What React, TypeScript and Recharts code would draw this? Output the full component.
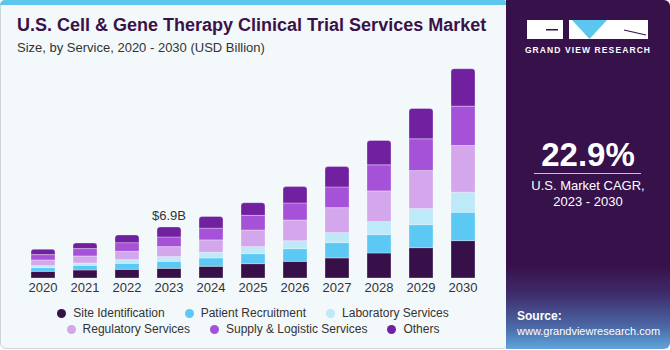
import { BarChart, Bar, XAxis, YAxis, LabelList } from 'recharts'

const years = ['2020', '2021', '2022', '2023', '2024', '2025', '2026', '2027', '2028', '2029', '2030']
const siteIdentification = [0.9, 1.08, 1.17, 1.31, 1.58, 1.94, 2.25, 2.71, 3.38, 4.1, 5.05]
const patientRecruitment = [0.5, 0.63, 0.81, 0.95, 1.13, 1.35, 1.71, 2.07, 2.48, 3.11, 3.83]
const laboratoryServices = [0.27, 0.32, 0.5, 0.63, 0.77, 0.95, 1.08, 1.35, 1.76, 2.17, 2.71]
const regulatoryServices = [0.77, 0.95, 1.13, 1.35, 1.67, 2.25, 2.8, 3.38, 4.15, 5.14, 6.32]
const supplyLogistic = [0.72, 0.99, 1.17, 1.31, 1.58, 1.98, 2.3, 2.8, 3.52, 4.29, 5.32]
const others = [0.72, 0.77, 1.04, 1.35, 1.58, 1.71, 2.21, 2.75, 3.29, 4.1, 5.05]
const barLabels = ['', '', '', '$6.9B', '', '', '', '', '', '', '']

const series = [
  { key: 'site', name: 'Site Identification', color: '#37104a' },
  { key: 'patient', name: 'Patient Recruitment', color: '#5cc9f5' },
  { key: 'lab', name: 'Laboratory Services', color: '#bde9f8' },
  { key: 'regulatory', name: 'Regulatory Services', color: '#d4a7ec' },
  { key: 'supply', name: 'Supply & Logistic Services', color: '#a552d8' },
  { key: 'others', name: 'Others', color: '#7121a0' },
]

const data = years.map((year, i) => ({
  year,
  site: siteIdentification[i],
  patient: patientRecruitment[i],
  lab: laboratoryServices[i],
  regulatory: regulatoryServices[i],
  supply: supplyLogistic[i],
  others: others[i],
  label: barLabels[i],
}))

const font = '"Liberation Sans", Arial, sans-serif'

function LegendRows() {
  const rows = [series.slice(0, 3), series.slice(3)]
  return (
    <div style={{ position: 'absolute', left: 22, top: 305, width: 462, fontSize: 12, color: '#333' }}>
      {rows.map((row, r) => (
        <div key={r} style={{ display: 'flex', justifyContent: 'center', gap: 20, height: 16, alignItems: 'center' }}>
          {row.map((s) => (
            <span key={s.key} style={{ display: 'flex', alignItems: 'center', whiteSpace: 'nowrap' }}>
              <span style={{ width: 9, height: 9, borderRadius: '50%', background: s.color, marginRight: 7, display: 'inline-block' }} />
              {s.name}
            </span>
          ))}
        </div>
      ))}
    </div>
  )
}

export default function App() {
  return (
    <div style={{ position: 'absolute', left: 0, top: 0, width: 670, height: 350, fontFamily: font, background: '#fff', overflow: 'hidden' }}>
      {/* left card */}
      <div style={{ position: 'absolute', left: 0, top: 0, width: 508, height: 349, background: '#f3f8fb', border: '1px solid #cfd4d8', borderRadius: 6, boxSizing: 'border-box' }} />
      <div style={{ position: 'absolute', left: 0, top: 0, width: 508, height: 5, background: '#5cc6ee', borderRadius: '6px 6px 0 0' }} />
      <div style={{ position: 'absolute', left: 17, top: 15, fontSize: 18, fontWeight: 700, color: '#3a1248', whiteSpace: 'nowrap' }}>
        U.S. Cell &amp; Gene Therapy Clinical Trial Services Market
      </div>
      <div style={{ position: 'absolute', left: 17, top: 40, fontSize: 13, color: '#333', whiteSpace: 'nowrap' }}>
        Size, by Service, 2020 - 2030 (USD Billion)
      </div>

      <div style={{ position: 'absolute', left: 0, top: 0 }}>
        <BarChart width={490} height={300} data={data} margin={{ top: 56, right: 6, left: 22, bottom: 0 }} barSize={24}>
          <XAxis
            dataKey="year"
            axisLine={false}
            tickLine={false}
            tickSize={0}
            tickMargin={5}
            height={22}
            interval={0}
            tick={{ fontSize: 13, fill: '#333', fontFamily: font }}
          />
          <YAxis hide domain={[0, 30]} />
          {series.map((s, i) => (
            <Bar
              key={s.key}
              dataKey={s.key}
              name={s.name}
              stackId="a"
              fill={s.color}
              stroke="rgba(255,255,255,0.3)"
              strokeWidth={1}
              radius={i === series.length - 1 ? [3, 3, 0, 0] : [0, 0, 0, 0]}
              isAnimationActive={false}
            >
              {i === series.length - 1 && (
                <LabelList dataKey="label" position="top" offset={7} fill="#333" fontSize={13} fontFamily={font} />
              )}
            </Bar>
          ))}
        </BarChart>
      </div>
      <LegendRows />

      {/* right panel */}
      <div
        style={{
          position: 'absolute', left: 506, top: 0, width: 164, height: 349, borderRadius: '0 6px 6px 0',
          background: 'linear-gradient(180deg, #37114a 0%, #37114a 76%, #3f2a6a 84%, #4c6aa8 94%, #5fa6dc 100%)',
        }}
      />
      <svg style={{ position: 'absolute', left: 506, top: 0 }} width={164} height={60}>
        <rect x={21} y={20} width={36} height={19} fill="#fff" />
        <rect x={40} y={29} width={12} height={1.5} fill="#37114a" />
        <rect x={63} y={20} width={79} height={19} fill="#fff" />
        <polygon points="66,20 101,20 83.5,39" fill="#5cc6ee" />
        <line x1={118} y1={30} x2={140} y2={35} stroke="#37114a" strokeWidth={1.2} />
      </svg>
      <div style={{ position: 'absolute', left: 506, top: 45, width: 164, textAlign: 'center', color: '#fff', fontSize: 8.5, fontWeight: 700, letterSpacing: 1.1 }}>
        GRAND VIEW RESEARCH
      </div>
      <div style={{ position: 'absolute', left: 506, top: 136, width: 164, textAlign: 'center', color: '#fff', fontSize: 33, fontWeight: 700 }}>
        22.9%
      </div>
      <div style={{ position: 'absolute', left: 534, top: 173, width: 107, height: 1, background: '#cbbfd6' }} />
      <div style={{ position: 'absolute', left: 506, top: 178, width: 164, textAlign: 'center', color: '#fff', fontSize: 13, lineHeight: '16px' }}>
        U.S. Market CAGR,
        <br />
        2023 - 2030
      </div>
      <div style={{ position: 'absolute', left: 517, top: 309, color: '#fff', fontSize: 11, lineHeight: '15px', whiteSpace: 'nowrap' }}>
        <b style={{ fontSize: 12 }}>Source:</b>
        <br />
        www.grandviewresearch.com
      </div>
    </div>
  )
}
